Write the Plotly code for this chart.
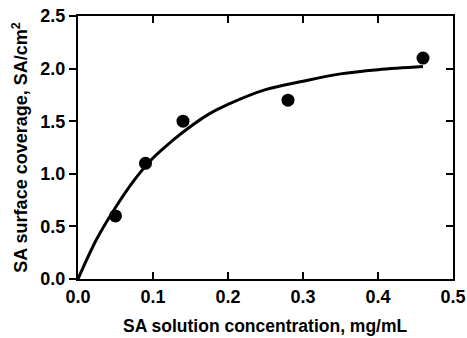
import plotly.graph_objects as go

# Measured data points
conc = [0.05, 0.09, 0.14, 0.28, 0.46]
coverage = [0.6, 1.1, 1.5, 1.7, 2.1]

# Fitted curve
fit_x = [0, 0.025, 0.05, 0.075, 0.1, 0.125, 0.15, 0.175, 0.2, 0.25, 0.3, 0.35, 0.4, 0.46]
fit_y = [0, 0.38, 0.68, 0.94, 1.15, 1.31, 1.45, 1.57, 1.66, 1.80, 1.88, 1.95, 1.99, 2.02]

x_ticks = [0.0, 0.1, 0.2, 0.3, 0.4, 0.5]
y_ticks = [0.0, 0.5, 1.0, 1.5, 2.0, 2.5]

FAM = "Liberation Sans, Arial, sans-serif"
tickfont = dict(family=FAM, size=18, color="black", weight="bold")
titlefont = dict(family=FAM, size=18, color="black", weight="bold")
xtitlefont = dict(family=FAM, size=17.5, color="black", weight="bold")

fig = go.Figure()
fig.add_trace(go.Scatter(x=fit_x, y=fit_y, mode="lines",
                         line=dict(color="black", width=3, shape="spline"),
                         showlegend=False))
fig.add_trace(go.Scatter(x=conc, y=coverage, mode="markers",
                         marker=dict(color="black", size=13),
                         showlegend=False))
# invisible trace to drive right-side mirror axis
fig.add_trace(go.Scatter(x=[0], y=[0], yaxis="y2", mode="markers",
                         marker=dict(opacity=0), showlegend=False, hoverinfo="skip"))

fig.update_layout(
    width=467, height=338,
    margin=dict(l=78, r=14, t=16, b=59),
    plot_bgcolor="white", paper_bgcolor="white",
    font=dict(family=FAM, size=18, color="black"),
    xaxis=dict(
        range=[0, 0.5], tickvals=x_ticks, ticktext=[f"{v:.1f}" for v in x_ticks],
        ticks="inside", ticklen=7, tickwidth=2, tickcolor="black",
        showline=True, linewidth=2, linecolor="black", mirror="ticks",
        showgrid=False, zeroline=False, automargin=False,
        tickfont=tickfont,
    ),
    yaxis=dict(
        range=[0, 2.5], tickvals=y_ticks, ticktext=[f"{v:.1f}" for v in y_ticks],
        ticks="outside", ticklen=7, tickwidth=2, tickcolor="black",
        showline=True, linewidth=2, linecolor="black",
        showgrid=False, zeroline=False, automargin=False,
        tickfont=tickfont,
        title=dict(text="SA surface coverage, SA/cm<sup>2</sup>", standoff=8,
                   font=titlefont),
    ),
    yaxis2=dict(
        range=[0, 2.5], tickvals=y_ticks, overlaying="y", side="right",
        ticks="inside", ticklen=7, tickwidth=2, tickcolor="black",
        showticklabels=False, showline=True, linewidth=2, linecolor="black",
        showgrid=False, zeroline=False, automargin=False,
    ),
    annotations=[dict(
        text="SA solution concentration, mg/mL", xref="paper", yref="paper",
        x=0.5, y=-59 / 263, xanchor="center", yanchor="bottom", showarrow=False,
        font=xtitlefont,
    )],
)

fig.write_html("out.html")
